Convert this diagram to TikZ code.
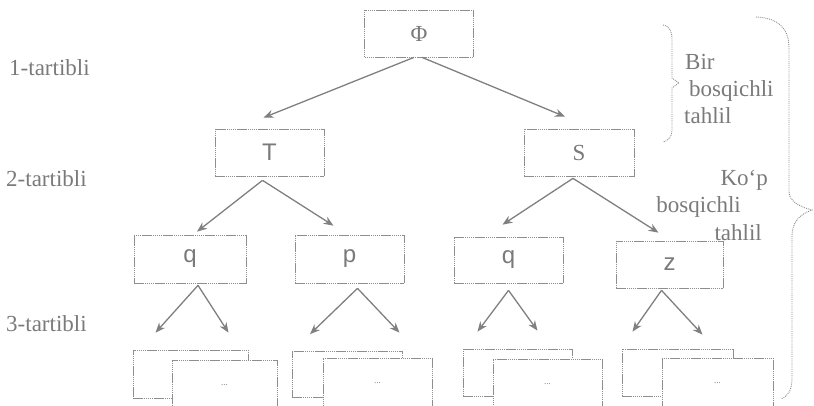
\documentclass[tikz,border=0pt]{standalone}
\usepackage{fontspec}
\setmainfont{Liberation Serif}
\newfontfamily\boxfont{Liberation Sans}
\usetikzlibrary{arrows.meta}
\definecolor{inkgray}{HTML}{7A7A7A}
\definecolor{linegray}{HTML}{8E8E8E}
\definecolor{arrgray}{HTML}{808080}
\begin{document}
\begin{tikzpicture}[x=1pt,y=-1pt,
	box/.style={draw=linegray,dash pattern=on 1.5pt off 0.6pt,line width=0.7pt,fill=white,inner sep=0pt,minimum width=109pt,minimum height=47pt,text=inkgray,font=\boxfont\fontsize{24}{24}\selectfont},
	dotbox/.style={box,font=\fontsize{9}{9}\selectfont},
	lbl/.style={text=inkgray,font=\fontsize{23}{27}\selectfont,inner sep=0pt},
	brace/.style={draw=linegray,densely dotted,line width=0.9pt},
	arr/.style={-{Stealth[length=10pt,width=8pt]},draw=arrgray,fill=arrgray,line width=1.3pt}]
	\useasboundingbox (0,0) rectangle (814,405);
	\clip (0,0) rectangle (814,405);
	\node[lbl,anchor=base west] (lev1) at (9,75) {1-tartibli};
	\node[lbl,anchor=base west] (lev2) at (6,186) {2-tartibli};
	\node[lbl,anchor=base west] (lev3) at (6,331) {3-tartibli};
	\node[box,font=\fontsize{23}{23}\selectfont] (phi) at (419,33.5) {Φ};
	\node[box] (t) at (269.5,152.5) {T};
	\node[box,minimum width=110pt,font=\fontsize{23}{23}\selectfont] (s) at (579,152.5) {S};
	\node[box,minimum width=112pt,minimum height=48pt] (q1) at (190,259) {q};
	\node[box,minimum height=48pt] (p) at (349.5,259) {p};
	\node[box,minimum height=46pt] (q2) at (508.5,260) {q};
	\node[box,minimum width=107pt] (z) at (669.5,264.5) {z};
	\node[box,minimum width=115pt,minimum height=48pt] (b1) at (190.5,374) {};
	\node[box,minimum width=110pt,minimum height=46pt] (b2) at (347,374.5) {};
	\node[box] (b3) at (517.5,372.5) {};
	\node[box,minimum width=111pt] (b4) at (677.5,372.5) {};
	\node[dotbox,minimum width=105pt,minimum height=50pt] (f1) at (224.5,385) {...};
	\node[dotbox,minimum height=50pt] (f2) at (377.5,383) {...};
	\node[dotbox,minimum height=50pt] (f3) at (547.5,384) {...};
	\node[dotbox,minimum width=111pt,minimum height=50pt] (f4) at (717.5,383) {...};
	\draw[arr] ([xshift=-5pt]phi.south) -- ([xshift=-6pt,yshift=11pt]t.north);
	\draw[arr] ([xshift=3pt]phi.south) -- ([xshift=-14pt,yshift=12pt]s.north);
	\draw[arr] ([xshift=-7pt,yshift=-4pt]t.south) -- ([xshift=7pt,yshift=3pt]q1.north);
	\draw[arr] ([xshift=-7pt,yshift=-4pt]t.south) -- ([xshift=-16pt,yshift=9pt]p.north);
	\draw[arr] ([xshift=-6pt,yshift=-2pt]s.south) -- ([xshift=-6pt,yshift=12pt]q2.north);
	\draw[arr] ([xshift=-6pt,yshift=-2pt]s.south) -- ([xshift=-11pt,yshift=8pt]z.north);
	\draw[arr] ([xshift=8pt,yshift=-2pt]q1.south) -- ([xshift=-35pt,yshift=17pt]b1.north);
	\draw[arr] ([xshift=8pt,yshift=-2pt]q1.south) -- ([xshift=4pt,yshift=27pt]f1.north);
	\draw[arr] ([xshift=8pt,yshift=-5pt]p.south) -- ([xshift=-37pt,yshift=17pt]b2.north);
	\draw[arr] ([xshift=8pt,yshift=-5pt]p.south) -- ([xshift=22pt,yshift=25pt]f2.north);
	\draw[arr] ([yshift=-7pt]q2.south) -- ([xshift=-40pt,yshift=17pt]b3.north);
	\draw[arr] ([yshift=-7pt]q2.south) -- ([xshift=-10pt,yshift=28pt]f3.north);
	\draw[arr] ([xshift=-8pt,yshift=-2pt]z.south) -- ([xshift=-45pt,yshift=17pt]b4.north);
	\draw[arr] ([xshift=-8pt,yshift=-2pt]z.south) -- ([xshift=-15pt,yshift=23pt]f4.north);
	\draw[brace] (663,25) .. controls (670,26) and (672,32) .. (672,40) -- (672,78) -- (679,83) -- (672,88) -- (672,130) .. controls (672,137) and (668,141) .. (663,142);
	\draw[brace] (756,17) .. controls (780,18) and (789,30) .. (789,48) -- (789,192) .. controls (789,201) and (800,207) .. (812,210) .. controls (800,214) and (792,222) .. (792,236) -- (792,378) .. controls (792,390) and (788,396) .. (781,399);
	\node[lbl,anchor=base west] (bir) at (685,69) {Bir};
	\node[lbl,anchor=base west] (birb) at (689,96) {bosqichli};
	\node[lbl,anchor=base west] (birt) at (684,123) {tahlil};
	\node[lbl,anchor=base east] (kop) at (768,185) {Ko‘p};
	\node[lbl,anchor=base east] (kopb) at (741,212) {bosqichli};
	\node[lbl,anchor=base east] (kopt) at (762,240) {tahlil};
\end{tikzpicture}
\end{document}
